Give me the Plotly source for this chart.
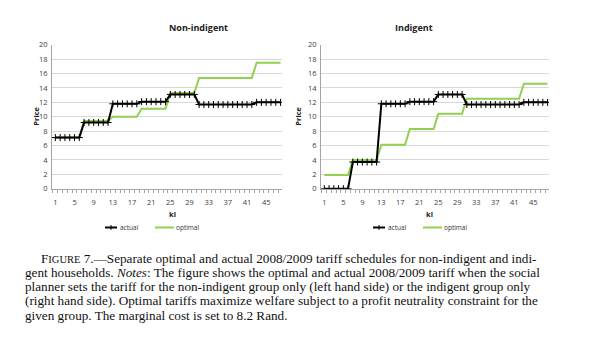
import plotly.graph_objects as go

# ---- data ----
kl = list(range(1, 49))
blocks = [6, 6, 6, 6, 6, 12, 6]  # number of kl in each tariff block

non_indigent_actual_blocks = [7.1, 9.2, 11.8, 12.1, 13.1, 11.7, 12.0]
non_indigent_optimal_blocks = [7.1, 9.4, 10.0, 11.1, 13.3, 15.4, 17.5]
indigent_actual_blocks = [0.0, 3.7, 11.8, 12.1, 13.1, 11.7, 12.0]
indigent_optimal_blocks = [1.9, 4.0, 6.1, 8.3, 10.4, 12.5, 14.6]

def expand(vals):
    out = []
    for v, n in zip(vals, blocks):
        out += [v] * n
    return out

non_indigent_actual = expand(non_indigent_actual_blocks)
non_indigent_optimal = expand(non_indigent_optimal_blocks)
indigent_actual = expand(indigent_actual_blocks)
indigent_optimal = expand(indigent_optimal_blocks)

x_tickvals = list(range(1, 49, 4))
x_ticktext = [str(v) for v in x_tickvals]
y_tickvals = list(range(0, 21, 2))

panel_titles = ["Non-indigent", "Indigent"]
series_names = ["actual", "optimal"]

caption_lines = [
    "F<span style='font-size:10.5px'>IGURE</span> 7.—Separate optimal and actual 2008/2009 tariff schedules for non-indigent and indi-",
    "gent households. <i>Notes</i>: The figure shows the optimal and actual 2008/2009 tariff when the social",
    "planner sets the tariff for the non-indigent group only (left hand side) or the indigent group only",
    "(right hand side). Optimal tariffs maximize welfare subject to a profit neutrality constraint for the",
    "given group. The marginal cost is set to 8.2 Rand.",
]

# ---- layout geometry (pixels) ----
W, H = 600, 352
def px(x):
    return x / W
def py(y):
    return 1 - y / H

panels = [(52, 282), (321, 549)]
top, bottom = 41, 189

BLACK = "#000000"
GREEN = "#92D050"
AXIS = "#a6a6a6"
GRID = "#d9d9d9"
TICKF = dict(family="Open Sans", size=7.5, color="#404040")

fig = go.Figure()

data = [(non_indigent_actual, non_indigent_optimal), (indigent_actual, indigent_optimal)]
for i, (act, opt) in enumerate(data):
    xa = "x" if i == 0 else "x2"
    ya = "y" if i == 0 else "y2"
    fig.add_trace(go.Scatter(x=kl, y=opt, mode="lines", name=series_names[1],
                             line=dict(color=GREEN, width=2), xaxis=xa, yaxis=ya,
                             showlegend=False))
    fig.add_trace(go.Scatter(x=kl, y=act, mode="lines+markers", name=series_names[0],
                             line=dict(color=BLACK, width=2),
                             marker=dict(symbol="cross-thin", size=5,
                                         line=dict(color=BLACK, width=1)),
                             xaxis=xa, yaxis=ya, showlegend=False))

minor_ticks = [k + 0.5 for k in range(0, 49)]
for i, (l, r) in enumerate(panels):
    xk = "xaxis" if i == 0 else "xaxis2"
    yk = "yaxis" if i == 0 else "yaxis2"
    fig.layout[xk] = dict(domain=[px(l), px(r)], range=[0.3, 48.3], anchor="y" if i == 0 else "y2",
                          tickmode="array", tickvals=x_tickvals, ticktext=x_ticktext,
                          ticks="", showgrid=False, zeroline=False,
                          showline=True, linecolor=AXIS, linewidth=1,
                          tickfont=TICKF, ticklabelstandoff=6,
                          minor=dict(ticks="outside", ticklen=3, tickcolor=AXIS,
                                     tickmode="array", tickvals=minor_ticks, showgrid=False))
    fig.layout[yk] = dict(domain=[py(bottom), py(top)], range=[0, 20],
                          anchor="x" if i == 0 else "x2",
                          tickmode="array", tickvals=y_tickvals, ticks="",
                          showgrid=True, gridcolor=GRID, gridwidth=1, zeroline=False,
                          showline=True, linecolor=AXIS, linewidth=1,
                          tickfont=TICKF, ticklabelstandoff=2)

ann = []
shapes = []
for i, (l, r) in enumerate(panels):
    c = (l + r) / 2
    ann.append(dict(x=px(c), y=py(23), xref="paper", yref="paper", text="<b>%s</b>" % panel_titles[i],
                    yanchor="middle", showarrow=False, font=dict(family="Open Sans", size=9, color="#222")))
    ann.append(dict(x=px(l - 23), y=py(115), xref="paper", yref="paper", text="<b>Price</b>",
                    yanchor="middle", textangle=-90, showarrow=False,
                    font=dict(family="Open Sans", size=7.5, color="#222")))
    ann.append(dict(x=px(c), y=py(215), xref="paper", yref="paper", text="<b>kl</b>",
                    yanchor="middle", showarrow=False, font=dict(family="Open Sans", size=7.5, color="#222")))
    # legend (decoration)
    lx = c - 62
    ly = 229
    shapes.append(dict(type="line", xref="paper", yref="paper", x0=px(lx), x1=px(lx + 12),
                       y0=py(ly), y1=py(ly), line=dict(color=BLACK, width=2)))
    shapes.append(dict(type="line", xref="paper", yref="paper", x0=px(lx + 6), x1=px(lx + 6),
                       y0=py(ly - 2.5), y1=py(ly + 2.5), line=dict(color=BLACK, width=1)))
    ann.append(dict(x=px(lx + 13), y=py(ly), xref="paper", yref="paper", text="actual",
                    xanchor="left", yanchor="middle", showarrow=False,
                    font=dict(family="Open Sans", size=6.5, color="#333")))
    shapes.append(dict(type="line", xref="paper", yref="paper", x0=px(lx + 50), x1=px(lx + 69),
                       y0=py(ly), y1=py(ly), line=dict(color=GREEN, width=2)))
    ann.append(dict(x=px(lx + 69), y=py(ly), xref="paper", yref="paper", text="optimal",
                    xanchor="left", yanchor="middle", showarrow=False,
                    font=dict(family="Open Sans", size=6.5, color="#333")))

cap_y = [261, 275.5, 290, 304.5, 319.5]
for k, (line, y) in enumerate(zip(caption_lines, cap_y)):
    ann.append(dict(x=px(39 if k == 0 else 23), y=py(y), xref="paper", yref="paper", text=line,
                    xanchor="left", yanchor="middle", showarrow=False,
                    font=dict(family="Liberation Serif", size=13.2, color="#111111")))

fig.update_layout(width=W, height=H, margin=dict(l=0, r=0, t=0, b=0),
                  paper_bgcolor="white", plot_bgcolor="white",
                  annotations=ann, shapes=shapes, showlegend=False)

fig.write_html("out.html")
